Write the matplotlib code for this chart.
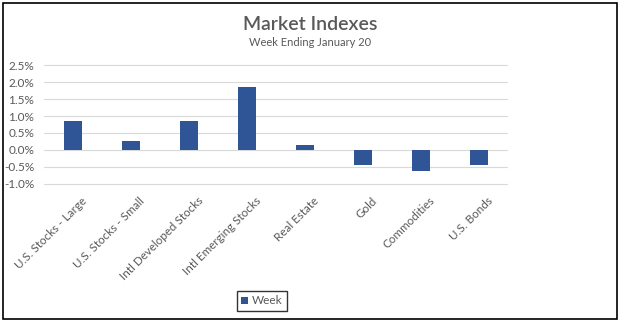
import matplotlib
matplotlib.use('Agg')
import matplotlib.pyplot as plt
import matplotlib.ticker as mticker
import matplotlib.transforms as mtrans
from matplotlib.patches import Rectangle

plt.rcParams['font.family'] = ['Lato', 'DejaVu Sans']

# ─── Data ─────────────────────────────────────────────────────────────────────
categories = ['U.S. Stocks - Large', 'U.S. Stocks - Small', 'Intl Developed Stocks',
              'Intl Emerging Stocks', 'Real Estate', 'Gold', 'Commodities', 'U.S. Bonds']
week = [0.86, 0.27, 0.86, 1.87, 0.13, -0.44, -0.62, -0.44]
yticks = [-1.0, -0.5, 0.0, 0.5, 1.0, 1.5, 2.0, 2.5]

BAR_COLOR = '#2F5597'
TEXT = '#595959'

fig = plt.figure(figsize=(6.2, 3.24), dpi=100)
ax = fig.add_axes([44 / 620, 1 - 192 / 324, 464 / 620, (192 - 57) / 324])

x = range(len(categories))
ax.bar(x, week, width=0.31, color=BAR_COLOR, label='Week', zorder=3)

ax.set_xlim(-0.5, len(categories) - 0.5)
ax.set_ylim(-1.25, 2.75)
ax.set_yticks(yticks)
ax.yaxis.set_major_formatter(mticker.FuncFormatter(lambda v, p: f'{v:.1f}%'))
ax.grid(axis='y', color='#D9D9D9', linewidth=0.8, zorder=0)
for s in ax.spines.values():
    s.set_visible(False)
ax.tick_params(axis='y', length=0, labelsize=8.5, colors=TEXT, pad=7)
ax.tick_params(axis='x', length=0, labelsize=8.4, colors=TEXT, pad=0)
ax.set_xticks(list(x))
ax.set_xticklabels(categories, rotation=45, ha='right', va='center',
                   rotation_mode='anchor')
# shift rotated labels so their ends sit just right of each category
shift = mtrans.offset_copy(ax.get_xaxis_transform(), fig=fig, x=12, y=-7, units='dots')
for lbl in ax.get_xticklabels():
    lbl.set_transform(shift)

fig.text(0.5, 1 - 25 / 324, 'Market Indexes', ha='center', va='center',
         fontsize=14, fontweight='semibold', color=TEXT)
fig.text(0.5, 1 - 43 / 324, 'Week Ending January 20', ha='center', va='center',
         fontsize=8, color=TEXT)

leg = fig.legend(loc='center', bbox_to_anchor=(262 / 620, 1 - 301 / 324),
                 fontsize=8.5, frameon=True, fancybox=False, handlelength=0.6,
                 handleheight=0.6, handletextpad=0.3, borderpad=0.4)
leg.get_frame().set_edgecolor('black')
leg.get_frame().set_linewidth(1.0)
for t in leg.get_texts():
    t.set_color(TEXT)

# outer chart border
fig.patches.append(Rectangle((3 / 620, 5 / 324), 614 / 620, 316 / 324,
                             transform=fig.transFigure, fill=False,
                             edgecolor='black', linewidth=1.2))

fig.savefig('out.png', dpi=100)
